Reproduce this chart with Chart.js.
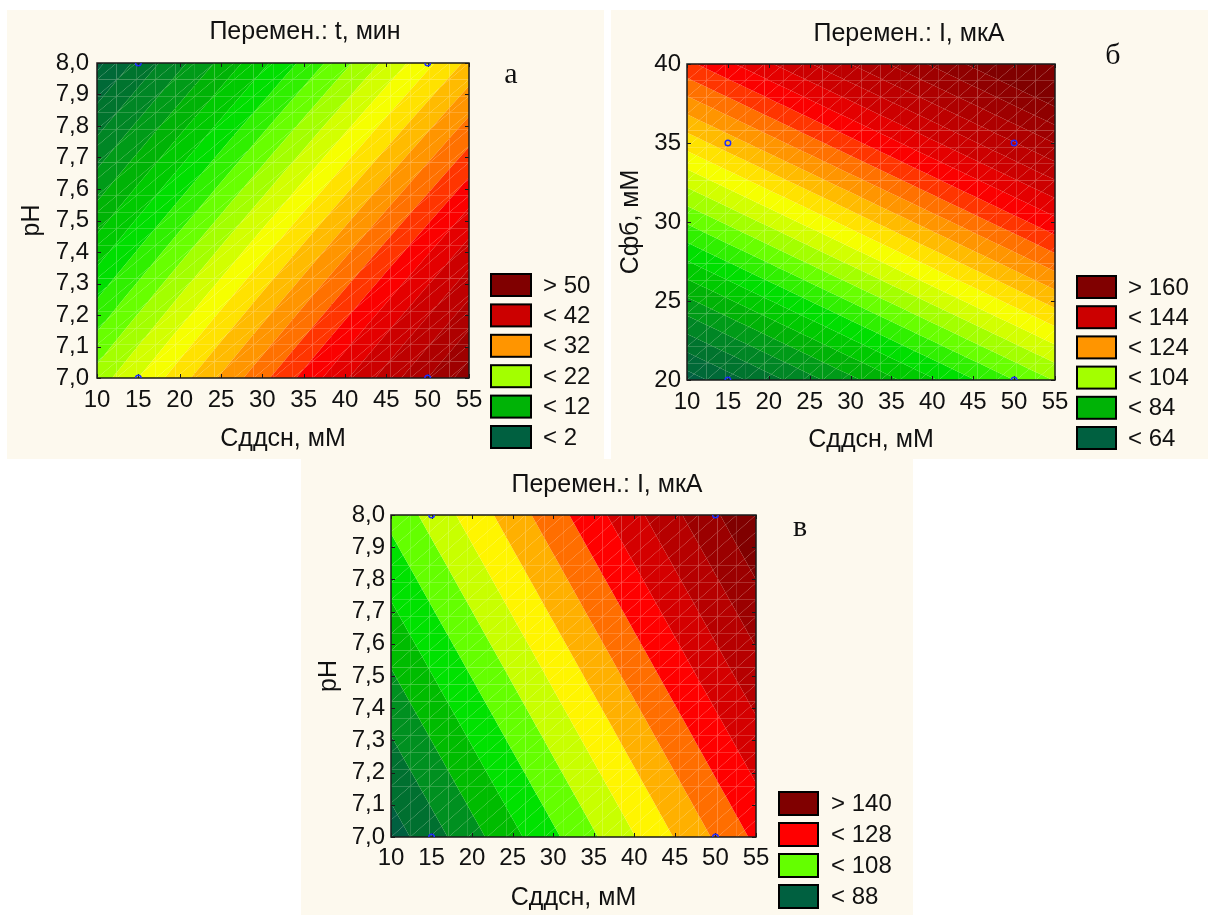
<!DOCTYPE html>
<html>
<head>
<meta charset="utf-8">
<script src="https://cdn.jsdelivr.net/npm/chart.js@4.4.1/dist/chart.umd.min.js"></script>
<style>
  body { margin: 0; background: #fff; width: 1208px; height: 915px; position: relative; overflow: hidden; }
  .panel { position: absolute; background: #fdf9ee; }
  .panel canvas { display: block; }
</style>
</head>
<body>
<div class="panel" style="left:7px;top:10px;width:597px;height:449px"><canvas id="grA" width="597" height="449"></canvas></div>
<div class="panel" style="left:611px;top:10px;width:597px;height:449px"><canvas id="grB" width="597" height="449"></canvas></div>
<div class="panel" style="left:301px;top:459px;width:612px;height:456px"><canvas id="grV" width="612" height="456"></canvas></div>
<script>
// ось X у всех трёх графиков: Сддсн, мМ
const xTicks = [10, 15, 20, 25, 30, 35, 40, 45, 50, 55];
const phTicks = [7.0, 7.1, 7.2, 7.3, 7.4, 7.5, 7.6, 7.7, 7.8, 7.9, 8.0];
const cfbTicks = [20, 25, 30, 35, 40];

// точки плана эксперимента
const planX = [15, 50];
const planPH = [7.0, 8.0];
const planCfb = [20, 35];

// отклик в точках плана: [нижний уровень, верхний уровень] x [15 мМ, 50 мМ]
const respT = [[24, 46], [4.5, 25.5]];            // а) t, мин  (pH)
const respIcfb = [[66.2, 96], [118, 147.8]];      // б) I, мкА  (Сфб)
const respIph = [[90.3, 120.5], [109.4, 139.5]];  // в) I, мкА  (pH)

// уровни изолиний
const levelsT = [2, 4, 6, 8, 10, 12, 14, 16, 18, 20, 22, 24, 26, 28, 30, 32, 34, 36, 38, 40, 42, 44, 46, 48, 50];
const levelsIcfb = [64, 68, 72, 76, 80, 84, 88, 92, 96, 100, 104, 108, 112, 116, 120, 124, 128, 132, 136, 140, 144, 148, 152, 156, 160];
const levelsIph = [88, 92, 96, 100, 104, 108, 112, 116, 120, 124, 128, 132, 136, 140];

// какие полосы показаны в легенде (сверху вниз)
const legendT = [25, 20, 15, 10, 5, 0];
const legendIcfb = [25, 20, 15, 10, 5, 0];
const legendIph = [14, 10, 5, 0];

const colourStops = [
  [0.000, [0, 96, 64]],
  [0.071, [0, 112, 48]],
  [0.143, [0, 144, 32]],
  [0.214, [0, 188, 0]],
  [0.286, [0, 226, 0]],
  [0.357, [100, 255, 0]],
  [0.420, [192, 255, 0]],
  [0.490, [255, 255, 0]],
  [0.571, [255, 176, 0]],
  [0.643, [255, 110, 0]],
  [0.714, [255, 0, 0]],
  [0.800, [204, 0, 0]],
  [1.000, [128, 0, 0]]
];

function bandColour(k, n) {
  const t = k / (n - 1);
  for (let i = 1; i < colourStops.length; i++) {
    const [t0, c0] = colourStops[i - 1];
    const [t1, c1] = colourStops[i];
    if (t <= t1 + 1e-9) {
      const f = (t - t0) / (t1 - t0);
      return 'rgb(' + c0.map((c, j) => Math.round(c + f * (c1[j] - c))).join(',') + ')';
    }
  }
  return 'rgb(128,0,0)';
}

const FONT = '"Liberation Sans", Arial, sans-serif';

// поверхность отклика по четырём точкам плана
function surface(p, xv, yv) {
  const u = (xv - planX[0]) / (planX[1] - planX[0]);
  const v = (yv - p.yPlan[0]) / (p.yPlan[1] - p.yPlan[0]);
  const [[z00, z10], [z01, z11]] = p.resp;
  return z00 * (1 - u) * (1 - v) + z10 * u * (1 - v) + z01 * (1 - u) * v + z11 * u * v;
}

function clipPoly(poly, level, above) {
  const out = [];
  for (let i = 0; i < poly.length; i++) {
    const a = poly[i], b = poly[(i + 1) % poly.length];
    const ina = above ? a.z >= level : a.z <= level;
    const inb = above ? b.z >= level : b.z <= level;
    if (ina) out.push(a);
    if (ina !== inb) {
      const t = (level - a.z) / (b.z - a.z);
      out.push({ px: a.px + t * (b.px - a.px), py: a.py + t * (b.py - a.py), z: level });
    }
  }
  return out;
}

function contourPlugin(p) {
  return {
    id: 'contour',
    beforeDatasetsDraw(chart) {
      const { ctx, scales: { x, y } } = chart;
      const n = p.levels.length + 1;
      const colours = [];
      for (let k = 0; k < n; k++) colours.push(bandColour(k, n));
      const NX = 19, NY = 19;
      const vert = (i, j) => {
        const xv = x.min + (x.max - x.min) * i / NX;
        const yv = y.min + (y.max - y.min) * j / NY;
        return { px: x.getPixelForValue(xv), py: y.getPixelForValue(yv), z: surface(p, xv, yv) };
      };
      ctx.save();
      for (let i = 0; i < NX; i++) {
        for (let j = 0; j < NY; j++) {
          const a = vert(i, j), b = vert(i + 1, j), c = vert(i + 1, j + 1), d = vert(i, j + 1);
          for (const tri of [[a, b, c], [a, c, d]]) {
            const zs = tri.map(v => v.z);
            const zmin = Math.min(...zs), zmax = Math.max(...zs);
            for (let k = 0; k < n; k++) {
              const lo = k === 0 ? -Infinity : p.levels[k - 1];
              const hi = k === n - 1 ? Infinity : p.levels[k];
              if (zmax < lo || zmin > hi) continue;
              let poly = tri;
              if (isFinite(lo)) poly = clipPoly(poly, lo, true);
              if (poly.length > 2 && isFinite(hi)) poly = clipPoly(poly, hi, false);
              if (poly.length < 3) continue;
              ctx.beginPath();
              ctx.moveTo(poly[0].px, poly[0].py);
              for (let m = 1; m < poly.length; m++) ctx.lineTo(poly[m].px, poly[m].py);
              ctx.closePath();
              ctx.fillStyle = colours[k];
              ctx.fill();
            }
          }
        }
      }
      // рамка и внутренние засечки
      const area = chart.chartArea;
      ctx.strokeStyle = '#1a1a1a';
      ctx.lineWidth = 1.5;
      ctx.strokeRect(area.left, area.top, area.right - area.left, area.bottom - area.top);
      ctx.lineWidth = 1;
      ctx.beginPath();
      for (const v of xTicks) {
        const px = Math.round(x.getPixelForValue(v)) + 0.5;
        ctx.moveTo(px, area.bottom); ctx.lineTo(px, area.bottom - 4);
        ctx.moveTo(px, area.top); ctx.lineTo(px, area.top + 4);
      }
      for (const v of p.yTicks) {
        const py = Math.round(y.getPixelForValue(v)) + 0.5;
        ctx.moveTo(area.left, py); ctx.lineTo(area.left + 4, py);
        ctx.moveTo(area.right, py); ctx.lineTo(area.right - 4, py);
      }
      ctx.stroke();
      ctx.restore();
    },
    afterDraw(chart) {
      const { ctx } = chart;
      const n = p.levels.length + 1;
      const lg = p.legend;
      ctx.save();
      // заголовок
      ctx.fillStyle = '#111';
      ctx.textAlign = 'center';
      ctx.textBaseline = 'middle';
      ctx.font = '25px ' + FONT;
      ctx.fillText(p.title, p.titlePos[0], p.titlePos[1]);
      // буква
      ctx.font = '30px "Liberation Serif", "Times New Roman", serif';
      ctx.fillText(p.letter, p.letterPos[0], p.letterPos[1]);
      // легенда
      ctx.textAlign = 'left';
      ctx.font = '24px ' + FONT;
      p.legendBands.forEach((k, i) => {
        const top = lg.top + i * lg.pitch;
        ctx.fillStyle = bandColour(k, n);
        ctx.fillRect(lg.x, top, lg.w, lg.h);
        ctx.strokeStyle = '#000';
        ctx.lineWidth = 2;
        ctx.strokeRect(lg.x, top, lg.w, lg.h);
        const label = k === n - 1 ? '> ' + p.levels[n - 2] : '< ' + p.levels[k];
        ctx.fillStyle = '#111';
        ctx.fillText(label, lg.textX, top + lg.h / 2 + 1);
      });
      ctx.restore();
    }
  };
}

function drawPanel(p) {
  const W = p.size[0], H = p.size[1], A = p.area;
  new Chart(document.getElementById(p.canvas), {
    type: 'scatter',
    data: {
      datasets: [{
        data: [
          { x: planX[0], y: p.yPlan[0] }, { x: planX[1], y: p.yPlan[0] },
          { x: planX[0], y: p.yPlan[1] }, { x: planX[1], y: p.yPlan[1] }
        ],
        pointRadius: 2.8,
        pointBorderWidth: 1.4,
        pointBorderColor: '#1f2dff',
        pointBackgroundColor: 'rgba(0,0,0,0)',
        clip: 0
      }]
    },
    options: {
      responsive: false,
      animation: false,
      events: [],
      layout: { padding: { left: 0, top: A.top, right: W - A.right, bottom: 0 } },
      plugins: { legend: { display: false }, tooltip: { enabled: false } },
      scales: {
        x: {
          type: 'linear', min: xTicks[0], max: xTicks[xTicks.length - 1],
          afterBuildTicks: s => { s.ticks = xTicks.map(v => ({ value: v })); },
          afterFit: s => { s.height = H - A.bottom; },
          grid: { display: false, drawTicks: false },
          border: { display: false },
          ticks: { color: '#111', font: { family: FONT, size: 24 }, padding: p.xTickPad, maxRotation: 0, autoSkip: false },
          title: { display: true, text: 'Сддсн, мМ', color: '#111', font: { family: FONT, size: 25 }, padding: { top: 0, bottom: p.xTitlePad } }
        },
        y: {
          type: 'linear', min: p.yTicks[0], max: p.yTicks[p.yTicks.length - 1],
          afterBuildTicks: s => { s.ticks = p.yTicks.map(v => ({ value: v })); },
          afterFit: s => { s.width = A.left; },
          grid: { display: false, drawTicks: false },
          border: { display: false },
          ticks: {
            color: '#111', font: { family: FONT, size: 24 }, padding: p.yTickPad, autoSkip: false,
            callback: v => p.yDigits ? v.toFixed(p.yDigits).replace('.', ',') : String(v)
          },
          title: { display: true, text: p.yTitle, color: '#111', font: { family: FONT, size: 25 }, padding: { top: p.yTitlePad, bottom: 0 } }
        }
      }
    },
    plugins: [contourPlugin(p)]
  });
}

drawPanel({
  canvas: 'grA', size: [597, 449],
  area: { left: 90, right: 462, top: 53, bottom: 368 },
  title: 'Перемен.: t, мин', titlePos: [298, 22],
  letter: 'а', letterPos: [504, 65],
  yTitle: 'pH', yTicks: phTicks, yDigits: 1, yPlan: planPH,
  resp: respT, levels: levelsT, legendBands: legendT,
  xTickPad: 8, yTickPad: 8, xTitlePad: 5, yTitlePad: 10,
  legend: { x: 484, top: 264, pitch: 30.4, w: 40, h: 22, textX: 536 }
});

drawPanel({
  canvas: 'grB', size: [597, 449],
  area: { left: 76, right: 444, top: 54, bottom: 370 },
  title: 'Перемен.: I, мкА', titlePos: [298, 24],
  letter: 'б', letterPos: [502, 46],
  yTitle: 'Сфб, мМ', yTicks: cfbTicks, yDigits: 0, yPlan: planCfb,
  resp: respIcfb, levels: levelsIcfb, legendBands: legendIcfb,
  xTickPad: 8, yTickPad: 6, xTitlePad: 4, yTitlePad: 5,
  legend: { x: 466, top: 266, pitch: 30.2, w: 39, h: 22, textX: 517 }
});

drawPanel({
  canvas: 'grV', size: [612, 456],
  area: { left: 90, right: 455, top: 56, bottom: 378 },
  title: 'Перемен.: I, мкА', titlePos: [306, 26],
  letter: 'в', letterPos: [499, 69],
  yTitle: 'pH', yTicks: phTicks, yDigits: 1, yPlan: planPH,
  resp: respIph, levels: levelsIph, legendBands: legendIph,
  xTickPad: 7, yTickPad: 6, xTitlePad: 2, yTitlePad: 13,
  legend: { x: 478, top: 333, pitch: 31, w: 39, h: 23, textX: 530 }
});
</script>
</body>
</html>
